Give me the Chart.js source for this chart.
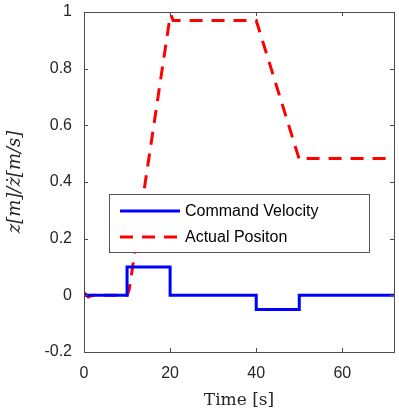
<!DOCTYPE html>
<html>
<head>
<meta charset="utf-8">
<script src="https://cdn.jsdelivr.net/npm/chart.js@4/dist/chart.umd.min.js"></script>
<style>
  html, body { margin: 0; padding: 0; background: #fff; }
  #wrap { width: 399px; height: 416px; }
</style>
</head>
<body>
<div id="wrap"><canvas id="plot" width="399" height="416"></canvas></div>
<script>
// command velocity (step changes, held from each time on)
var velTime  = [0, 10, 20, 40, 50, 72];
var velValue = [0, 0.1, 0, -0.05, 0, 0];

// actual position
var posTime  = [0, 1, 2, 10, 10.5, 20, 20.2, 20.7, 40, 50, 50.2, 50.6, 72];
var posValue = [0.01, -0.006, 0, 0, 0.02, 0.985, 0.99, 0.97, 0.97, 0.48, 0.478, 0.483, 0.483];

var xTicks = [0, 20, 40, 60];
var yTicks = [-0.2, 0, 0.2, 0.4, 0.6, 0.8, 1];

var toPoints = function(xs, ys) {
    return xs.map(function(x, i) { return { x: x, y: ys[i] }; });
};

var tickFont  = { family: '"Liberation Sans", Arial, sans-serif', size: 16 };
var axisColor = '#4d4d4d';

// matlab style box with inward ticks
var boxPlugin = {
    id: 'box',
    afterDatasetsDraw: function(chart) {
        var ctx = chart.ctx, a = chart.chartArea;
        var xs = chart.scales.x, ys = chart.scales.y;
        ctx.save();
        ctx.strokeStyle = axisColor;
        ctx.lineWidth = 1;
        ctx.beginPath();
        xTicks.forEach(function(v) {
            var px = Math.round(xs.getPixelForValue(v)) + 0.5;
            ctx.moveTo(px, a.bottom); ctx.lineTo(px, a.bottom - 4);
            ctx.moveTo(px, a.top);    ctx.lineTo(px, a.top + 4);
        });
        yTicks.forEach(function(v) {
            var py = Math.round(ys.getPixelForValue(v)) + 0.5;
            ctx.moveTo(a.left, py);  ctx.lineTo(a.left + 4, py);
            ctx.moveTo(a.right, py); ctx.lineTo(a.right - 4, py);
        });
        ctx.stroke();
        ctx.strokeRect(Math.round(a.left) + 0.5, Math.round(a.top) + 0.5,
                       Math.round(a.right - a.left), Math.round(a.bottom - a.top));

        // legend box inside the axes
        var lx = 109.5, ly = 194.5, lw = 260, lh = 58;
        ctx.fillStyle = '#fff';
        ctx.fillRect(lx, ly, lw, lh);
        ctx.strokeStyle = '#555';
        ctx.strokeRect(lx, ly, lw, lh);
        chart.data.datasets.forEach(function(ds, i) {
            var yy = 211 + i * 26;
            ctx.beginPath();
            ctx.strokeStyle = ds.borderColor;
            ctx.lineWidth = ds.borderWidth;
            ctx.setLineDash(ds.borderDash || []);
            ctx.moveTo(120, yy); ctx.lineTo(180, yy);
            ctx.stroke();
            ctx.setLineDash([]);
            ctx.fillStyle = '#000';
            ctx.font = '16px "Liberation Sans", Arial, sans-serif';
            ctx.textBaseline = 'middle';
            ctx.fillText(ds.label, 185, yy + 1);
        });
        ctx.restore();
    }
};

var plot = new Chart(document.getElementById('plot'), {
    type: 'line',
    data: {
        datasets: [{
            label: 'Command Velocity',
            data: toPoints(velTime, velValue),
            stepped: 'before',
            borderColor: '#0000ff',
            borderWidth: 3,
            pointRadius: 0,
            fill: false
        }, {
            label: 'Actual Positon',
            data: toPoints(posTime, posValue),
            borderColor: '#ff0000',
            borderWidth: 3,
            borderDash: [13, 9],
            pointRadius: 0,
            tension: 0,
            fill: false
        }]
    },
    options: {
        responsive: false,
        animation: false,
        layout: { padding: { top: 12, right: 5, left: 0, bottom: 0 } },
        plugins: {
            legend: { display: false },
            tooltip: { enabled: false }
        },
        scales: {
            x: {
                type: 'linear',
                min: 0,
                max: 72,
                afterBuildTicks: function(s) { s.ticks = xTicks.map(function(v) { return { value: v }; }); },
                afterFit: function(s) { s.height = 64; s.paddingLeft = 0; s.paddingRight = 0; },
                grid: { display: false, drawTicks: false },
                border: { display: false },
                ticks: { font: tickFont, color: '#262626', padding: 12, maxRotation: 0 },
                title: {
                    display: true,
                    text: 'Time [s]',
                    font: { family: '"DejaVu Serif", serif', size: 17 },
                    color: '#262626',
                    padding: { top: 0, bottom: 5 }
                }
            },
            y: {
                type: 'linear',
                min: -0.2,
                max: 1,
                afterBuildTicks: function(s) { s.ticks = yTicks.map(function(v) { return { value: v }; }); },
                afterFit: function(s) { s.width = 84; s.paddingTop = 0; s.paddingBottom = 0; },
                grid: { display: false, drawTicks: false },
                border: { display: false },
                ticks: {
                    font: tickFont,
                    color: '#262626',
                    padding: 12,
                    callback: function(v) { return Math.round(v * 10) / 10; }
                },
                title: {
                    display: true,
                    text: 'z[m]/ż[m/s]',
                    font: { family: '"DejaVu Serif", serif', size: 18, style: 'italic' },
                    color: '#262626',
                    padding: { top: 5, bottom: 0 }
                }
            }
        }
    },
    plugins: [boxPlugin]
});
</script>
</body>
</html>
